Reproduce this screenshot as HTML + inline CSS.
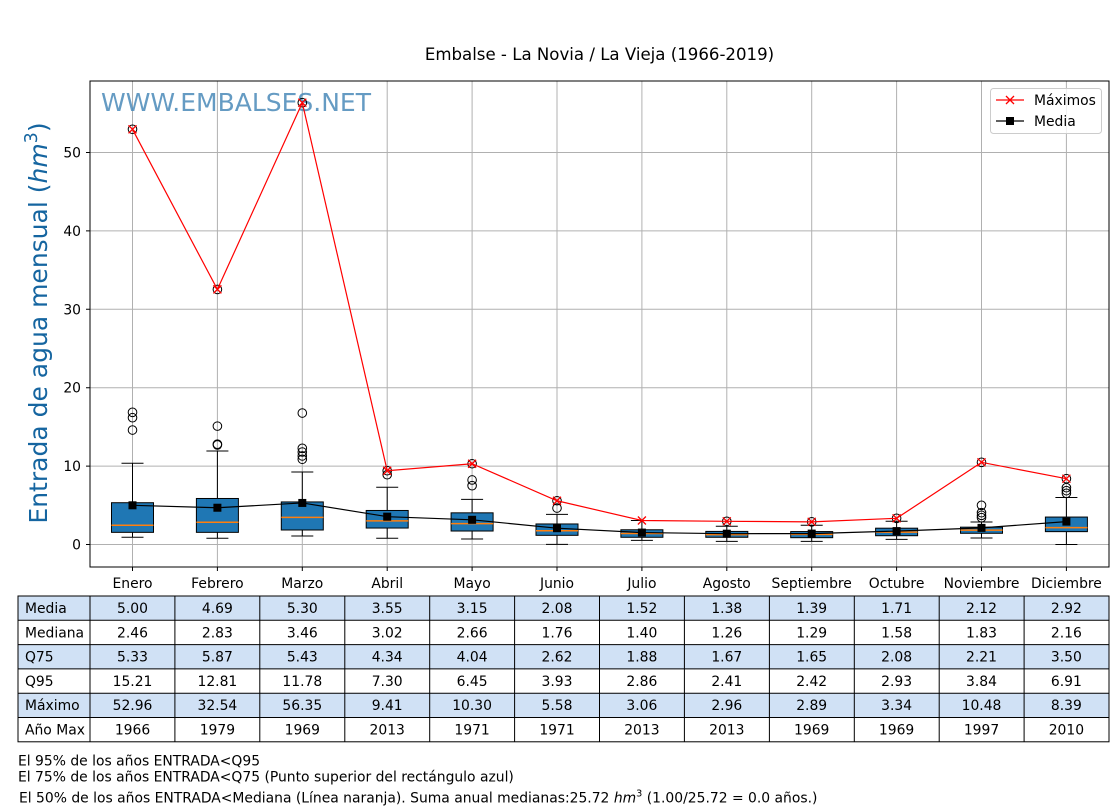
<!DOCTYPE html>
<html><head><meta charset="utf-8"><style>
html,body{margin:0;padding:0;background:#fff;}
svg{display:block;font-family:"DejaVu Sans","Liberation Sans",sans-serif;}
</style></head><body>
<svg width="1120" height="810" viewBox="0 0 1120 810" xmlns="http://www.w3.org/2000/svg">
<rect width="1120" height="810" fill="#fff"/>
<text x="599.5" y="60" font-size="16.6" text-anchor="middle" fill="#000">Embalse - La Novia / La Vieja (1966-2019)</text>

<!-- grid -->
<g stroke="#b0b0b0" stroke-width="1">
<line x1="132.5" y1="81" x2="132.5" y2="567"/><line x1="217.4" y1="81" x2="217.4" y2="567"/><line x1="302.3" y1="81" x2="302.3" y2="567"/><line x1="387.2" y1="81" x2="387.2" y2="567"/><line x1="472.1" y1="81" x2="472.1" y2="567"/><line x1="557" y1="81" x2="557" y2="567"/><line x1="641.9" y1="81" x2="641.9" y2="567"/><line x1="726.8" y1="81" x2="726.8" y2="567"/><line x1="811.7" y1="81" x2="811.7" y2="567"/><line x1="896.6" y1="81" x2="896.6" y2="567"/><line x1="981.5" y1="81" x2="981.5" y2="567"/><line x1="1066.4" y1="81" x2="1066.4" y2="567"/>
<line x1="90" y1="544.5" x2="1109" y2="544.5"/><line x1="90" y1="466.1" x2="1109" y2="466.1"/><line x1="90" y1="387.7" x2="1109" y2="387.7"/><line x1="90" y1="309.3" x2="1109" y2="309.3"/><line x1="90" y1="230.9" x2="1109" y2="230.9"/><line x1="90" y1="152.5" x2="1109" y2="152.5"/>
</g>

<text x="101" y="111" font-size="25" fill="#4a8ab8" fill-opacity="0.85" textLength="270" lengthAdjust="spacingAndGlyphs">WWW.EMBALSES.NET</text>

<!-- boxplots -->
<g stroke="#000" stroke-width="1" fill="none">
<path d="M132.5 532.35V537.29M121.5 537.29H143.5M132.5 502.71V463.28M121.5 463.28H143.5
M217.4 532.35V538.23M206.4 538.23H228.4M217.4 498.48V450.97M206.4 450.97H228.4
M302.3 530V536.03M291.3 536.03H313.3M302.3 501.93V472M291.3 472H313.3
M387.2 528.04V538.23M376.2 538.23H398.2M387.2 510.47V487.27M376.2 487.27H398.2
M472.1 531.02V539.01M461.1 539.01H483.1M472.1 512.83V499.34M461.1 499.34H483.1
M557 535.33V544.34M546 544.34H568M557 523.96V514.32M546 514.32H568
M641.9 537.29V540.34M630.9 540.34H652.9M641.9 529.76V520.51M630.9 520.51H652.9
M726.8 537.29V541.36M715.8 541.36H737.8M726.8 531.41V526.31M715.8 526.31H737.8
M811.7 537.68V541.36M800.7 541.36H822.7M811.7 531.56V525.29M800.7 525.29H822.7
M896.6 535.72V539.33M885.6 539.33H907.6M896.6 528.19V521.29M885.6 521.29H907.6
M981.5 533.29V537.99M970.5 537.99H992.5M981.5 527.17V522M970.5 522H992.5
M1066.4 531.64V544.5M1055.4 544.5H1077.4M1066.4 517.06V497.46M1055.4 497.46H1077.4"/>
</g>
<g stroke="#000" stroke-width="1" fill="#1f77b4">
<rect x="111.5" y="502.71" width="42" height="29.64"/>
<rect x="196.4" y="498.48" width="42" height="33.87"/>
<rect x="281.3" y="501.93" width="42" height="28.07"/>
<rect x="366.2" y="510.47" width="42" height="17.57"/>
<rect x="451.1" y="512.83" width="42" height="18.19"/>
<rect x="536" y="523.96" width="42" height="11.37"/>
<rect x="620.9" y="529.76" width="42" height="7.53"/>
<rect x="705.8" y="531.41" width="42" height="5.88"/>
<rect x="790.7" y="531.56" width="42" height="6.12"/>
<rect x="875.6" y="528.19" width="42" height="7.53"/>
<rect x="960.5" y="527.17" width="42" height="6.12"/>
<rect x="1045.4" y="517.06" width="42" height="14.58"/>
</g>
<g stroke="#ff7f0e" stroke-width="1.5">
<path d="M111.5 525.21H153.5M196.4 522.31H238.4M281.3 517.37H323.3M366.2 520.82H408.2M451.1 523.65H493.1M536 530.7H578M620.9 533.52H662.9M705.8 534.62H747.8M790.7 534.39H832.7M875.6 532.11H917.6M960.5 530.15H1002.5M1045.4 527.57H1087.4"/>
</g>
<!-- outliers -->
<g stroke="#000" stroke-width="1" fill="none">
<circle cx="132.5" cy="412.32" r="4.3"/><circle cx="132.5" cy="417.73" r="4.3"/><circle cx="132.5" cy="430.04" r="4.3"/><circle cx="132.5" cy="129.29" r="4.3"/>
<circle cx="217.4" cy="426.12" r="4.3"/><circle cx="217.4" cy="444.15" r="4.3"/><circle cx="217.4" cy="444.93" r="4.3"/><circle cx="217.4" cy="289.39" r="4.3"/>
<circle cx="302.3" cy="413.02" r="4.3"/><circle cx="302.3" cy="448.3" r="4.3"/><circle cx="302.3" cy="451.99" r="4.3"/><circle cx="302.3" cy="455.9" r="4.3"/><circle cx="302.3" cy="459.28" r="4.3"/><circle cx="302.3" cy="102.72" r="4.3"/>
<circle cx="387.2" cy="470.73" r="4.3"/><circle cx="387.2" cy="474.72" r="4.3"/>
<circle cx="472.1" cy="479.98" r="4.3"/><circle cx="472.1" cy="485.7" r="4.3"/><circle cx="472.1" cy="463.75" r="4.3"/>
<circle cx="557" cy="508.04" r="4.3"/><circle cx="557" cy="500.75" r="4.3"/>
<circle cx="726.8" cy="521.29" r="4.3"/>
<circle cx="811.7" cy="521.84" r="4.3"/>
<circle cx="896.6" cy="518.31" r="4.3"/>
<circle cx="981.5" cy="505.3" r="4.3"/><circle cx="981.5" cy="512.67" r="4.3"/><circle cx="981.5" cy="515.34" r="4.3"/><circle cx="981.5" cy="517.69" r="4.3"/><circle cx="981.5" cy="462.34" r="4.3"/>
<circle cx="1066.4" cy="487.66" r="4.3"/><circle cx="1066.4" cy="490.64" r="4.3"/><circle cx="1066.4" cy="493.3" r="4.3"/><circle cx="1066.4" cy="478.72" r="4.3"/>
</g>

<!-- max line -->
<polyline fill="none" stroke="#ff0000" stroke-width="1.2" points="132.5,129.29 217.4,289.39 302.3,102.72 387.2,470.73 472.1,463.75 557,500.75 641.9,520.51 726.8,521.29 811.7,521.84 896.6,518.31 981.5,462.34 1066.4,478.72"/>
<g stroke="#ff0000" stroke-width="1.3">
<path d="M128.5 125.29l8 8m0 -8l-8 8M213.4 285.39l8 8m0 -8l-8 8M298.3 98.72l8 8m0 -8l-8 8M383.2 466.73l8 8m0 -8l-8 8M468.1 459.75l8 8m0 -8l-8 8M553 496.75l8 8m0 -8l-8 8M637.9 516.51l8 8m0 -8l-8 8M722.8 517.29l8 8m0 -8l-8 8M807.7 517.84l8 8m0 -8l-8 8M892.6 514.31l8 8m0 -8l-8 8M977.5 458.34l8 8m0 -8l-8 8M1062.4 474.72l8 8m0 -8l-8 8"/>
</g>
<!-- mean line -->
<polyline fill="none" stroke="#000" stroke-width="1.2" points="132.5,505.3 217.4,507.73 302.3,502.95 387.2,516.67 472.1,519.8 557,528.19 641.9,532.58 726.8,533.68 811.7,533.6 896.6,531.09 981.5,527.88 1066.4,521.61"/>
<g fill="#000">
<rect x="128.5" y="501.3" width="8" height="8"/><rect x="213.4" y="503.73" width="8" height="8"/><rect x="298.3" y="498.95" width="8" height="8"/><rect x="383.2" y="512.67" width="8" height="8"/><rect x="468.1" y="515.8" width="8" height="8"/><rect x="553" y="524.19" width="8" height="8"/><rect x="637.9" y="528.58" width="8" height="8"/><rect x="722.8" y="529.68" width="8" height="8"/><rect x="807.7" y="529.6" width="8" height="8"/><rect x="892.6" y="527.09" width="8" height="8"/><rect x="977.5" y="523.88" width="8" height="8"/><rect x="1062.4" y="517.61" width="8" height="8"/>
</g>

<!-- axes frame -->
<rect x="90" y="81" width="1019" height="486" fill="none" stroke="#000" stroke-width="1"/>
<g stroke="#000" stroke-width="1">
<path d="M86 544.5H90M86 466.1H90M86 387.7H90M86 309.3H90M86 230.9H90M86 152.5H90"/>
<path d="M132.5 567V571M217.4 567V571M302.3 567V571M387.2 567V571M472.1 567V571M557 567V571M641.9 567V571M726.8 567V571M811.7 567V571M896.6 567V571M981.5 567V571M1066.4 567V571"/>
</g>
<g font-size="13.9" fill="#000" text-anchor="end">
<text x="81" y="549.5">0</text><text x="81" y="471.1">10</text><text x="81" y="392.7">20</text><text x="81" y="314.3">30</text><text x="81" y="235.9">40</text><text x="81" y="157.5">50</text>
</g>
<g font-size="13.9" fill="#000" text-anchor="middle">
<text x="132.5" y="588">Enero</text><text x="217.4" y="588">Febrero</text><text x="302.3" y="588">Marzo</text><text x="387.2" y="588">Abril</text><text x="472.1" y="588">Mayo</text><text x="557" y="588">Junio</text><text x="641.9" y="588">Julio</text><text x="726.8" y="588">Agosto</text><text x="811.7" y="588">Septiembre</text><text x="896.6" y="588">Octubre</text><text x="981.5" y="588">Noviembre</text><text x="1066.4" y="588">Diciembre</text>
</g>

<!-- y label -->
<text transform="translate(47,323) rotate(-90)" font-size="25" fill="#1565a0" text-anchor="middle">Entrada de agua mensual (<tspan font-style="italic">hm</tspan><tspan font-size="17.5" dy="-10">3</tspan><tspan dy="10">)</tspan></text>

<!-- legend -->
<rect x="990.5" y="88.5" width="111" height="45" rx="3" fill="#fff" fill-opacity="0.8" stroke="#cccccc"/>
<line x1="996" y1="100" x2="1024" y2="100" stroke="#ff0000" stroke-width="1.2"/>
<path d="M1006 96l8 8m0 -8l-8 8" stroke="#ff0000" stroke-width="1.3"/>
<line x1="996" y1="121" x2="1024" y2="121" stroke="#000" stroke-width="1.2"/>
<rect x="1006" y="117" width="8" height="8" fill="#000"/>
<text x="1034" y="104.8" font-size="13.9" fill="#000">Máximos</text>
<text x="1034" y="125.8" font-size="13.9" fill="#000">Media</text>

<!-- table -->
<g fill="#d0e1f5">
<rect x="18" y="596" width="1091" height="24.3"/>
<rect x="18" y="644.6" width="1091" height="24.3"/>
<rect x="18" y="693.2" width="1091" height="24.3"/>
</g>
<g stroke="#000" stroke-width="1" fill="none">
<rect x="18" y="596" width="1091" height="145.8"/>
<path d="M18 620.3H1109M18 644.6H1109M18 668.9H1109M18 693.2H1109M18 717.5H1109"/>
<path d="M90 596V741.8M174.9 596V741.8M259.8 596V741.8M344.8 596V741.8M429.7 596V741.8M514.6 596V741.8M599.5 596V741.8M684.4 596V741.8M769.4 596V741.8M854.3 596V741.8M939.2 596V741.8M1024.1 596V741.8"/>
</g>
<g font-size="13.9" fill="#000">
<text x="25" y="613">Media</text>
<text x="25" y="637.3">Mediana</text>
<text x="25" y="661.6">Q75</text>
<text x="25" y="685.9">Q95</text>
<text x="25" y="710.2">Máximo</text>
<text x="25" y="734.5">Año Max</text>
</g>
<g font-size="13.9" fill="#000" text-anchor="middle">
<text y="613"><tspan x="132.5">5.00</tspan><tspan x="217.4">4.69</tspan><tspan x="302.3">5.30</tspan><tspan x="387.2">3.55</tspan><tspan x="472.1">3.15</tspan><tspan x="557">2.08</tspan><tspan x="641.9">1.52</tspan><tspan x="726.8">1.38</tspan><tspan x="811.7">1.39</tspan><tspan x="896.6">1.71</tspan><tspan x="981.5">2.12</tspan><tspan x="1066.4">2.92</tspan></text>
<text y="637.3"><tspan x="132.5">2.46</tspan><tspan x="217.4">2.83</tspan><tspan x="302.3">3.46</tspan><tspan x="387.2">3.02</tspan><tspan x="472.1">2.66</tspan><tspan x="557">1.76</tspan><tspan x="641.9">1.40</tspan><tspan x="726.8">1.26</tspan><tspan x="811.7">1.29</tspan><tspan x="896.6">1.58</tspan><tspan x="981.5">1.83</tspan><tspan x="1066.4">2.16</tspan></text>
<text y="661.6"><tspan x="132.5">5.33</tspan><tspan x="217.4">5.87</tspan><tspan x="302.3">5.43</tspan><tspan x="387.2">4.34</tspan><tspan x="472.1">4.04</tspan><tspan x="557">2.62</tspan><tspan x="641.9">1.88</tspan><tspan x="726.8">1.67</tspan><tspan x="811.7">1.65</tspan><tspan x="896.6">2.08</tspan><tspan x="981.5">2.21</tspan><tspan x="1066.4">3.50</tspan></text>
<text y="685.9"><tspan x="132.5">15.21</tspan><tspan x="217.4">12.81</tspan><tspan x="302.3">11.78</tspan><tspan x="387.2">7.30</tspan><tspan x="472.1">6.45</tspan><tspan x="557">3.93</tspan><tspan x="641.9">2.86</tspan><tspan x="726.8">2.41</tspan><tspan x="811.7">2.42</tspan><tspan x="896.6">2.93</tspan><tspan x="981.5">3.84</tspan><tspan x="1066.4">6.91</tspan></text>
<text y="710.2"><tspan x="132.5">52.96</tspan><tspan x="217.4">32.54</tspan><tspan x="302.3">56.35</tspan><tspan x="387.2">9.41</tspan><tspan x="472.1">10.30</tspan><tspan x="557">5.58</tspan><tspan x="641.9">3.06</tspan><tspan x="726.8">2.96</tspan><tspan x="811.7">2.89</tspan><tspan x="896.6">3.34</tspan><tspan x="981.5">10.48</tspan><tspan x="1066.4">8.39</tspan></text>
<text y="734.5"><tspan x="132.5">1966</tspan><tspan x="217.4">1979</tspan><tspan x="302.3">1969</tspan><tspan x="387.2">2013</tspan><tspan x="472.1">1971</tspan><tspan x="557">1971</tspan><tspan x="641.9">2013</tspan><tspan x="726.8">2013</tspan><tspan x="811.7">1969</tspan><tspan x="896.6">1969</tspan><tspan x="981.5">1997</tspan><tspan x="1066.4">2010</tspan></text>
</g>

<!-- footer -->
<g font-size="13.9" fill="#000">
<text x="18" y="765.5">El 95% de los años ENTRADA&lt;Q95</text>
<text x="18" y="781.5">El 75% de los años ENTRADA&lt;Q75 (Punto superior del rectángulo azul)</text>
<text x="19" y="802.5">El 50% de los años ENTRADA&lt;Mediana (Línea naranja). Suma anual medianas:25.72 <tspan font-style="italic">hm</tspan><tspan font-size="9.7" dy="-6">3</tspan><tspan dy="6"> (1.00/25.72 = 0.0 años.)</tspan></text>
</g>
</svg>
</body></html>
